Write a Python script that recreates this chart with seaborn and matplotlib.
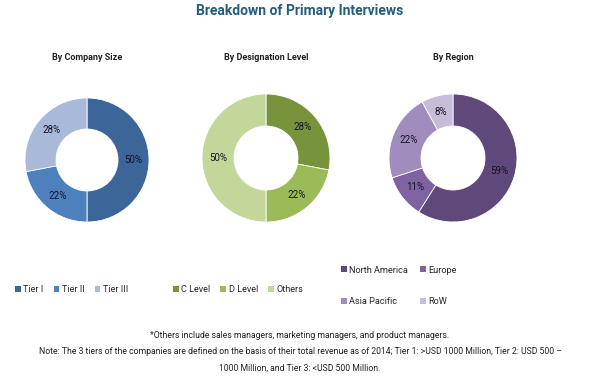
import seaborn as sns
import matplotlib.pyplot as plt
from matplotlib.patches import Patch

# data
company_labels = ["Tier I", "Tier II", "Tier III"]
company_share = [50, 22, 28]
designation_labels = ["C Level", "D Level", "Others"]
designation_share = [28, 22, 50]
region_labels = ["North America", "Europe", "Asia Pacific", "RoW"]
region_share = [59, 11, 22, 8]

company_colors = ["#3D6698", "#4F80BE", "#A8B9D9"]
designation_colors = ["#77933C", "#9BBB59", "#C4D79B"]
region_colors = ["#5F497A", "#7E62A1", "#A08DBD", "#C7BDD8"]

sns.set_theme(style="white")
plt.rcParams["font.family"] = ["Roboto", "DejaVu Sans"]

W, H = 600, 377
fig = plt.figure(figsize=(6, 3.77), dpi=100)
fig.patch.set_facecolor("white")


def donut(cx, cy, r, values, colors, title):
    ax = fig.add_axes([(cx - r) / W, 1 - (cy + r) / H, 2 * r / W, 2 * r / H])
    ax.pie(values, colors=colors, startangle=90, counterclock=False,
           autopct=lambda p: "%d%%" % round(p), pctdistance=0.75,
           wedgeprops=dict(width=0.5, edgecolor="white", linewidth=0.6),
           textprops=dict(fontsize=7, color="#141428"))
    ax.set_xlim(-1, 1)
    ax.set_ylim(-1, 1)
    ax.set_aspect("equal")
    fig.text(cx / W, 1 - 57 / H, title, ha="center", va="center",
             fontsize=6.5, fontweight="bold", color="#222222")
    return ax


donut(87, 160, 62, company_share, company_colors, "By Company Size")
donut(266, 158, 64, designation_share, designation_colors, "By Designation Level")
donut(453, 158, 64, region_share, region_colors, "By Region")

fig.text(0.5, 1 - 11 / H, "Breakdown of Primary Interviews", ha="center",
         va="center", fontsize=10, fontweight="bold", color="#235C7C")


def legend(labels, colors, x, y, ncol, colsp, labsp=0.5, order=None):
    handles = [Patch(facecolor=c, edgecolor="none") for c in colors]
    if order is not None:
        handles = [handles[i] for i in order]
        labels = [labels[i] for i in order]
    fig.legend(handles, labels, loc="center left",
               bbox_to_anchor=(x / W, 1 - y / H), ncol=ncol, frameon=False,
               fontsize=6.6, handlelength=0.6, handleheight=0.6,
               handletextpad=0.3, columnspacing=colsp, labelspacing=labsp,
               borderpad=0, borderaxespad=0)


legend(company_labels, company_colors, 15, 290, 3, 1.1)
legend(designation_labels, designation_colors, 173, 290, 3, 1.1)
# legend fills column by column, so reorder to get rows NA/Europe, AP/RoW
legend(region_labels, region_colors, 341, 286, 2, 1.3, labsp=2.5,
       order=[0, 2, 1, 3])

note_font = ["Liberation Sans Narrow", "Roboto", "DejaVu Sans"]
fig.text(0.5, 1 - 335 / H,
         "*Others include sales managers, marketing managers, and product managers.",
         ha="center", va="center", fontsize=6.2, color="#222222", family=note_font)
fig.text(0.5, 1 - 352 / H,
         "Note: The 3 tiers of the companies are defined on the basis of their total revenue "
         "as of 2014; Tier 1: >USD 1000 Million, Tier 2: USD 500 \u2013",
         ha="center", va="center", fontsize=6.2, color="#222222", family=note_font)
fig.text(0.5, 1 - 368 / H, "1000 Million, and Tier 3: <USD 500 Million.",
         ha="center", va="center", fontsize=6.2, color="#222222", family=note_font)

plt.savefig("out.png", dpi=100)
plt.close()
